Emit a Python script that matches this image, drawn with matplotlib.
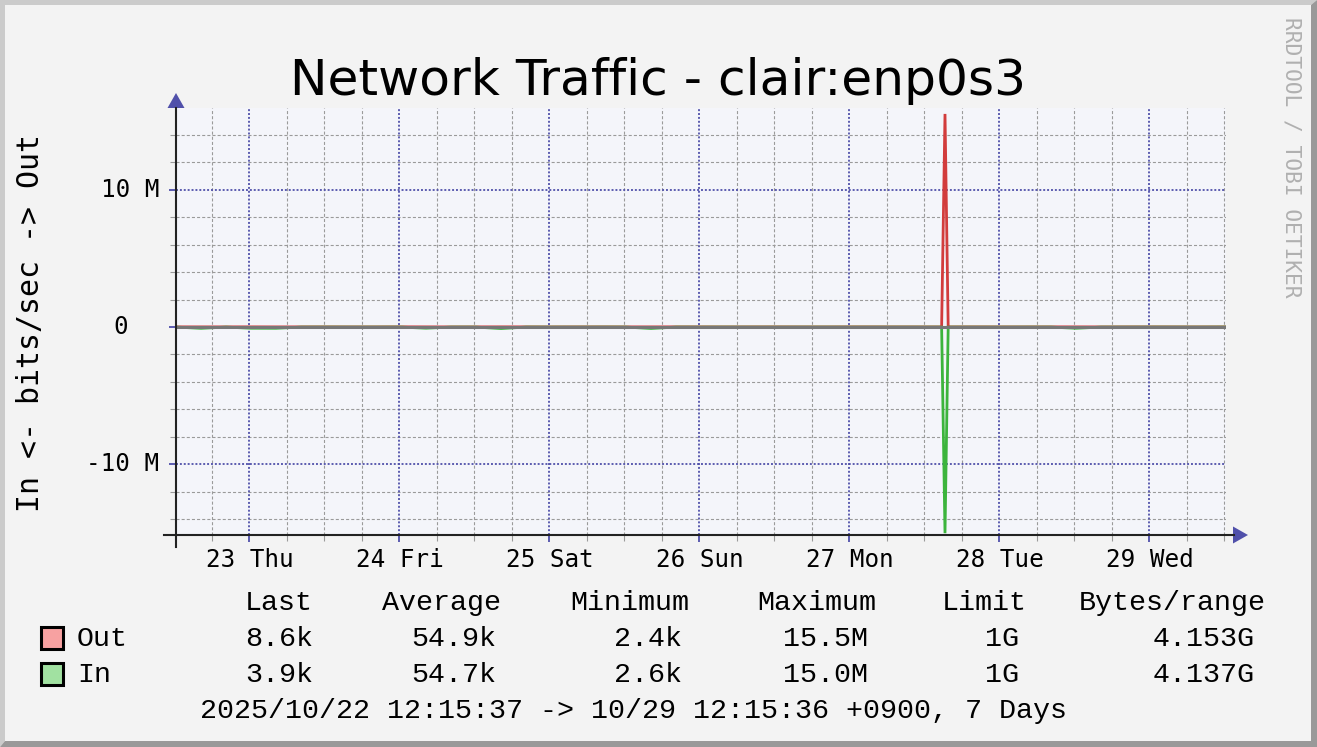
import numpy as np
import matplotlib
matplotlib.use("Agg")
import matplotlib.pyplot as plt
from matplotlib.patches import Polygon, Rectangle

# ---- data (bits/sec) ----
base_hours = np.arange(0, 169, 4)          # hours since 2025/10/22 12:15:37
out_k = [9.2, 7.8, 8.4, 10.1, 6.9, 8.8, 9.5, 7.2, 8.1, 11.3, 9.0, 7.5, 8.3, 10.4,
         9.7, 6.8, 8.6, 9.9, 7.7, 8.2, 10.8, 9.1, 7.4, 8.9, 9.6, 8.0, 7.3, 10.2,
         9.4, 8.7, 7.9, 8.5, 9.8, 7.6, 8.4, 10.0, 9.2, 7.1, 8.8, 9.3, 8.1, 7.7, 8.6]
in_k = [6.2, 95, 7.1, 88, 92, 8.4, 6.9, 7.5, 8.0, 6.6, 85, 7.2, 8.3, 110,
        6.8, 7.7, 8.9, 6.4, 7.0, 105, 7.3, 8.1, 6.7, 7.9, 8.6, 7.4, 6.9, 8.2,
        7.6, 7.1, 8.0, 6.5, 7.8, 8.4, 7.0, 6.9, 90, 7.5, 8.2, 6.6, 7.3, 7.9, 3.9]
spike_hours = [122.5, 123.04, 123.55]
out_spike_k = [8.0, 15500, 7.9]
in_spike_k = [6.5, 15000, 7.2]

day_labels = ["23 Thu", "24 Fri", "25 Sat", "26 Sun", "27 Mon", "28 Tue", "29 Wed"]
first_midnight = 11.74   # 10/23 00:00 in hours since start
y_labels = ["10 M", "0", "-10 M"]
y_label_vals = [10e6, 0, -10e6]

legend_cols = ["Last", "Average", "Minimum", "Maximum", "Limit", "Bytes/range"]
out_stats = ["8.6k", "54.9k", "2.4k", "15.5M", "1G", "4.153G"]
in_stats = ["3.9k", "54.7k", "2.6k", "15.0M", "1G", "4.137G"]

W, H = 1317, 747
def fx(px): return px / W
def fy(py): return 1 - py / H

plt.rcParams["lines.scale_dashes"] = False
BLUE = "#5050AA"
MONO = "DejaVu Sans Mono"
LEG = "Liberation Mono"

fig = plt.figure(figsize=(W / 100, H / 100), dpi=100, facecolor="#F3F3F3")

# 3d shaded border
fig.add_artist(Polygon([(0, 1), (1, 1), (fx(W - 6), fy(5)), (fx(5), fy(5)), (fx(5), fy(H - 6)), (0, 0)],
                       closed=True, transform=fig.transFigure, color="#CBCBCB", lw=0))
fig.add_artist(Polygon([(1, 1), (1, 0), (0, 0), (fx(5), fy(H - 6)), (fx(W - 6), fy(H - 6)), (fx(W - 6), fy(5))],
                       closed=True, transform=fig.transFigure, color="#999999", lw=0))

L, R, T, B = 176, 1226, 108, 535
ax = fig.add_axes([fx(L), fy(B), fx(R) - fx(L), fy(T) - fy(B)])
ax.set_facecolor("#F4F5FA")
ax.set_xlim(0, 168)
ax.set_ylim(-15.13e6, 15.93e6)
for s in ax.spines.values():
    s.set_visible(False)

major_x = [first_midnight + 24 * i for i in range(len(day_labels))]
minor_x = [h for h in np.arange(first_midnight - 6, 168.01, 6) if h > 0 and h not in major_x]
major_y = [-10e6, 0, 10e6]
minor_y = [v * 1e6 for v in range(-14, 16, 2) if v % 10 != 0]

minor_style = dict(color="#9A9A9A", lw=0.8, dashes=(2.2, 1.5), zorder=1)
major_style = dict(color=BLUE, lw=1.3, dashes=(1.4, 1.4), zorder=1.5)
for h in minor_x:
    ax.axvline(h, **minor_style)
for v in minor_y:
    ax.axhline(v, **minor_style)
for h in major_x:
    ax.axvline(h, **major_style)
for v in major_y:
    ax.axhline(v, **major_style)

ax.set_xticks(major_x)
ax.set_xticklabels(day_labels, fontsize=17.5, family=MONO)
ax.set_xticks(minor_x, minor=True)
ax.set_yticks(major_y)
ax.set_yticklabels([])
ax.set_yticks(minor_y, minor=True)
ax.tick_params(which="major", length=5, width=1.3, color=BLUE, pad=4.5)
ax.tick_params(which="minor", length=4, width=0.8, color="#9A9A9A")

for lab, v in zip(y_labels, y_label_vals):
    off = -34.5 if lab == "0" else -12
    ax.annotate(lab, xy=(0, v), xycoords=("axes fraction", "data"), xytext=(off, 0),
                textcoords="offset points", ha="right", va="center", fontsize=17.5, family=MONO)

# series
hours = np.concatenate([base_hours, spike_hours])
order = np.argsort(hours)
out_bits = np.concatenate([out_k, out_spike_k])[order] * 1e3
in_bits = np.concatenate([in_k, in_spike_k])[order] * 1e3
hours = hours[order]
ax.plot(hours, out_bits, color="#D23C3C", lw=2.0, zorder=3, solid_joinstyle="miter")
ax.plot(hours, -in_bits, color="#3CB43C", lw=2.0, zorder=3, solid_joinstyle="miter")
ax.axhline(0, color="#777777", lw=2.2, zorder=4)

# axes lines and arrows
fig.add_artist(plt.Line2D([fx(L), fx(L)], [fy(T), fy(547)], transform=fig.transFigure, color="#222222", lw=1.5))
fig.add_artist(plt.Line2D([fx(164), fx(1234)], [fy(B), fy(B)], transform=fig.transFigure, color="#222222", lw=1.5))
fig.add_artist(Polygon([(fx(L), fy(93)), (fx(L - 8.5), fy(108)), (fx(L + 8.5), fy(108))],
                       transform=fig.transFigure, color=BLUE, lw=0))
fig.add_artist(Polygon([(fx(1248), fy(B)), (fx(1233), fy(B - 8.5)), (fx(1233), fy(B + 8.5))],
                       transform=fig.transFigure, color=BLUE, lw=0))

# texts
fig.text(fx(658), fy(95), "Network Traffic - clair:enp0s3", ha="center", va="baseline",
         fontsize=36.2, family="DejaVu Sans")
fig.text(fx(31), fy(323), "In <- bits/sec -> Out", rotation=90, ha="center", va="center",
         fontsize=21.5, family=MONO)
fig.text(fx(1292), fy(157), "RRDTOOL / TOBI OETIKER", rotation=270, ha="center", va="center",
         fontsize=15.3, family=MONO, color="#B0B0B0")

# legend
head_x = [313, 501, 689, 876, 1027, 1266]
val_x = [313, 496, 682, 868, 1019, 1255]
for x, t in zip(head_x, legend_cols):
    fig.text(fx(x), fy(610), t, ha="right", va="baseline", fontsize=20.4, family=LEG)
for row_y, name, color, stats in [(646, "Out", "#F7A1A1", out_stats), (682, "In", "#A1E1A1", in_stats)]:
    fig.add_artist(Rectangle((fx(41), fy(row_y + 3)), fx(22), fy(0) - fy(22), transform=fig.transFigure,
                             facecolor=color, edgecolor="black", lw=2.2))
    fig.text(fx(77), fy(row_y), name, ha="left", va="baseline", fontsize=20.4, family=LEG)
    for x, t in zip(val_x, stats):
        fig.text(fx(x), fy(row_y), t, ha="right", va="baseline", fontsize=20.4, family=LEG)
fig.text(fx(200), fy(718), "2025/10/22 12:15:37 -> 10/29 12:15:36 +0900, 7 Days",
         ha="left", va="baseline", fontsize=20.4, family=LEG)

fig.savefig("out.png", dpi=100, facecolor=fig.get_facecolor())
